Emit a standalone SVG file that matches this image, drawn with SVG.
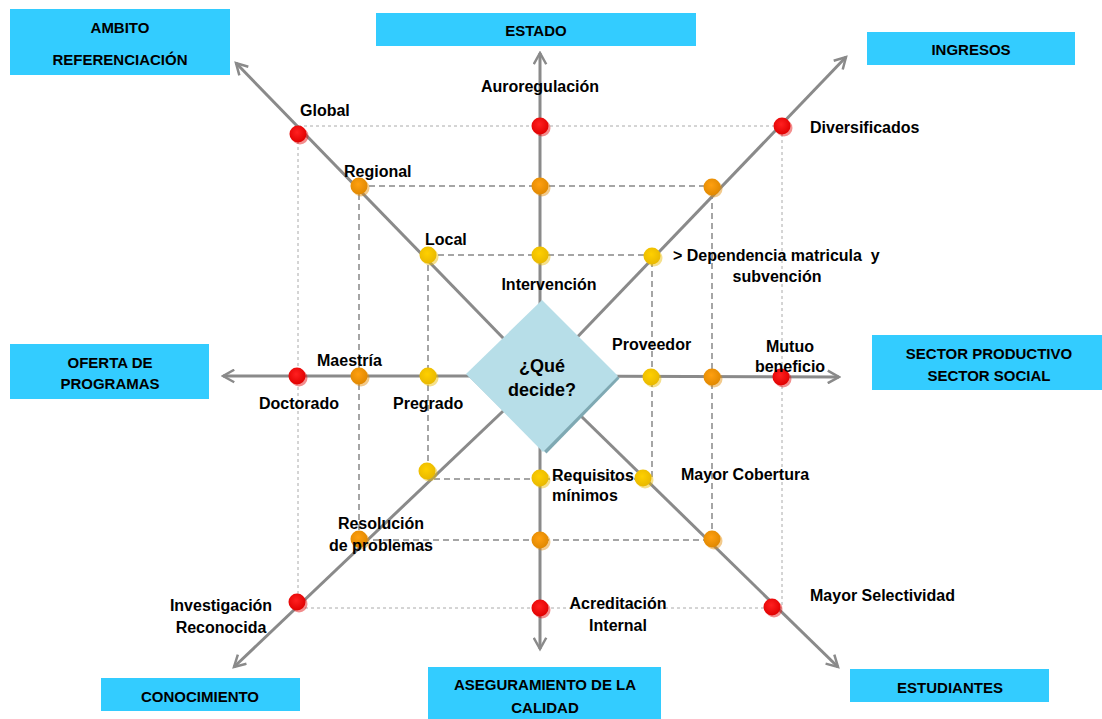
<svg xmlns="http://www.w3.org/2000/svg" width="1102" height="719" viewBox="0 0 1102 719">
<defs>
<style>
.box{fill:#33CCFF}
.bt{font-family:"Liberation Sans",Arial,sans-serif;font-weight:bold;font-size:15px;fill:#000;text-anchor:middle}
.lb{font-family:"Liberation Sans",Arial,sans-serif;font-weight:bold;font-size:16px;fill:#000}
.c{text-anchor:middle}
.axis{stroke:#8a8a8a;stroke-width:3;fill:none;marker-end:url(#arr)}
.dot1{stroke:#aaa;stroke-width:1;stroke-dasharray:3 3;fill:none}
.dot2{stroke:#888;stroke-width:1.5;stroke-dasharray:6 4;fill:none}
.red{fill:url(#gr)}
.org{fill:url(#go)}
.yel{fill:url(#gy)}
.sh{opacity:0.45}
</style>
<marker id="arr" viewBox="0 0 12 12" refX="10" refY="6" markerWidth="5" markerHeight="5" orient="auto" markerUnits="strokeWidth">
<path d="M1,1 L10,6 L1,11" fill="none" stroke="#8a8a8a" stroke-width="2"/>
</marker>
<radialGradient id="gr" cx="45%" cy="40%" r="60%"><stop offset="0" stop-color="#ff2020"/><stop offset="1" stop-color="#e00000"/></radialGradient>
<radialGradient id="go" cx="45%" cy="40%" r="60%"><stop offset="0" stop-color="#ffa010"/><stop offset="1" stop-color="#e08800"/></radialGradient>
<radialGradient id="gy" cx="45%" cy="40%" r="60%"><stop offset="0" stop-color="#ffd000"/><stop offset="1" stop-color="#e8b800"/></radialGradient>
</defs>
<rect width="1102" height="719" fill="#fff"/>

<g id="grid">
<rect class="dot1" x="298" y="126" width="484" height="482"/>
<rect class="dot2" x="359" y="186" width="353" height="354"/>
<rect class="dot2" x="428" y="255" width="224" height="224"/>
</g>

<g id="connectors">
<line class="axis" x1="540" y1="376" x2="540" y2="53"/>
<line class="axis" x1="540" y1="376" x2="540" y2="649"/>
<line class="axis" x1="540" y1="376" x2="223" y2="376"/>
<line class="axis" x1="540" y1="376" x2="839" y2="377"/>
<line class="axis" x1="540" y1="376" x2="236" y2="63"/>
<line class="axis" x1="540" y1="376" x2="846" y2="57"/>
<line class="axis" x1="540" y1="376" x2="234" y2="667"/>
<line class="axis" x1="540" y1="376" x2="838" y2="667"/>
</g>

<g id="center">
<polygon points="542,302 618,377 545,452 466,374" fill="#7fa9b3" transform="translate(1.5,1.5)"/>
<polygon points="542,300 618,376 543,452 466,374" fill="#B7DEE8"/>
<text class="lb c" x="542" y="372" style="font-size:18px">¿Qué</text>
<text class="lb c" x="542" y="396" style="font-size:18px">decide?</text>
</g>

<g id="dots">
<g class="sh">
<circle class="red" cx="300" cy="136" r="8.5"/><circle class="red" cx="542" cy="128" r="8.5"/><circle class="red" cx="784" cy="128" r="8.5"/>
<circle class="red" cx="299" cy="378" r="8.5"/><circle class="red" cx="783" cy="379" r="8.5"/>
<circle class="red" cx="299" cy="604" r="8.5"/><circle class="red" cx="542" cy="610" r="8.5"/><circle class="red" cx="774" cy="609" r="8.5"/>
<circle class="org" cx="361" cy="188" r="8.5"/><circle class="org" cx="542" cy="188" r="8.5"/><circle class="org" cx="714" cy="189" r="8.5"/>
<circle class="org" cx="361" cy="378" r="8.5"/><circle class="org" cx="714" cy="379" r="8.5"/>
<circle class="org" cx="361" cy="541" r="8.5"/><circle class="org" cx="542" cy="542" r="8.5"/><circle class="org" cx="714" cy="541" r="8.5"/>
<circle class="yel" cx="430" cy="257" r="8.5"/><circle class="yel" cx="542" cy="257" r="8.5"/><circle class="yel" cx="654" cy="258" r="8.5"/>
<circle class="yel" cx="430" cy="378" r="8.5"/><circle class="yel" cx="653" cy="379" r="8.5"/>
<circle class="yel" cx="429" cy="473" r="8.5"/><circle class="yel" cx="542" cy="480" r="8.5"/><circle class="yel" cx="645" cy="480" r="8.5"/>
</g>
<circle class="red" cx="298" cy="134" r="8.5"/><circle class="red" cx="540" cy="126" r="8.5"/><circle class="red" cx="782" cy="126" r="8.5"/>
<circle class="red" cx="297" cy="376" r="8.5"/><circle class="red" cx="781" cy="377" r="8.5"/>
<circle class="red" cx="297" cy="602" r="8.5"/><circle class="red" cx="540" cy="608" r="8.5"/><circle class="red" cx="772" cy="607" r="8.5"/>
<circle class="org" cx="359" cy="186" r="8.5"/><circle class="org" cx="540" cy="186" r="8.5"/><circle class="org" cx="712" cy="187" r="8.5"/>
<circle class="org" cx="359" cy="376" r="8.5"/><circle class="org" cx="712" cy="377" r="8.5"/>
<circle class="org" cx="359" cy="539" r="8.5"/><circle class="org" cx="540" cy="540" r="8.5"/><circle class="org" cx="712" cy="539" r="8.5"/>
<circle class="yel" cx="428" cy="255" r="8.5"/><circle class="yel" cx="540" cy="255" r="8.5"/><circle class="yel" cx="652" cy="256" r="8.5"/>
<circle class="yel" cx="428" cy="376" r="8.5"/><circle class="yel" cx="651" cy="377" r="8.5"/>
<circle class="yel" cx="427" cy="471" r="8.5"/><circle class="yel" cx="540" cy="478" r="8.5"/><circle class="yel" cx="643" cy="478" r="8.5"/>
</g>

<g id="labels">
<text class="lb" x="300" y="116">Global</text>
<text class="lb c" x="540" y="92">Auroregulación</text>
<text class="lb" x="810" y="133">Diversificados</text>
<text class="lb" x="344" y="177">Regional</text>
<text class="lb" x="425" y="245">Local</text>
<text class="lb c" x="549" y="290">Intervención</text>
<text class="lb" x="673" y="261" xml:space="preserve">&gt; Dependencia matricula  y</text>
<text class="lb c" x="777" y="282">subvención</text>
<text class="lb" x="317" y="366">Maestría</text>
<text class="lb c" x="299" y="409">Doctorado</text>
<text class="lb" x="393" y="409">Pregrado</text>
<text class="lb" x="612" y="350">Proveedor</text>
<text class="lb c" x="790" y="352">Mutuo</text>
<text class="lb c" x="790" y="372">beneficio</text>
<text class="lb" x="552" y="481">Requisitos</text>
<text class="lb" x="552" y="501">mínimos</text>
<text class="lb" x="681" y="480">Mayor Cobertura</text>
<text class="lb c" x="381" y="529">Resolución</text>
<text class="lb c" x="381" y="551">de problemas</text>
<text class="lb c" x="221" y="611">Investigación</text>
<text class="lb c" x="221" y="633">Reconocida</text>
<text class="lb c" x="618" y="609">Acreditación</text>
<text class="lb c" x="618" y="631">Internal</text>
<text class="lb" x="810" y="601">Mayor Selectividad</text>
</g>

<g id="box-ambito"><rect class="box" x="10" y="9" width="220" height="66"/><text class="bt" x="120" y="33">AMBITO</text><text class="bt" x="120" y="65">REFERENCIACIÓN</text></g>
<g id="box-estado"><rect class="box" x="376" y="13" width="320" height="33"/><text class="bt" x="536" y="36">ESTADO</text></g>
<g id="box-ingresos"><rect class="box" x="867" y="32" width="208" height="33"/><text class="bt" x="971" y="55">INGRESOS</text></g>
<g id="box-oferta"><rect class="box" x="10" y="344" width="199" height="55"/><text class="bt" x="110" y="368">OFERTA DE</text><text class="bt" x="110" y="389">PROGRAMAS</text></g>
<g id="box-sector"><rect class="box" x="872" y="335" width="230" height="55"/><text class="bt" x="989" y="359">SECTOR PRODUCTIVO</text><text class="bt" x="989" y="381">SECTOR SOCIAL</text></g>
<g id="box-conocimiento"><rect class="box" x="101" y="678" width="199" height="33"/><text class="bt" x="200" y="702">CONOCIMIENTO</text></g>
<g id="box-aseguramiento"><rect class="box" x="428" y="667" width="233" height="52"/><text class="bt" x="545" y="690">ASEGURAMIENTO DE LA</text><text class="bt" x="545" y="713">CALIDAD</text></g>
<g id="box-estudiantes"><rect class="box" x="850" y="669" width="199" height="33"/><text class="bt" x="950" y="693">ESTUDIANTES</text></g>
</svg>
